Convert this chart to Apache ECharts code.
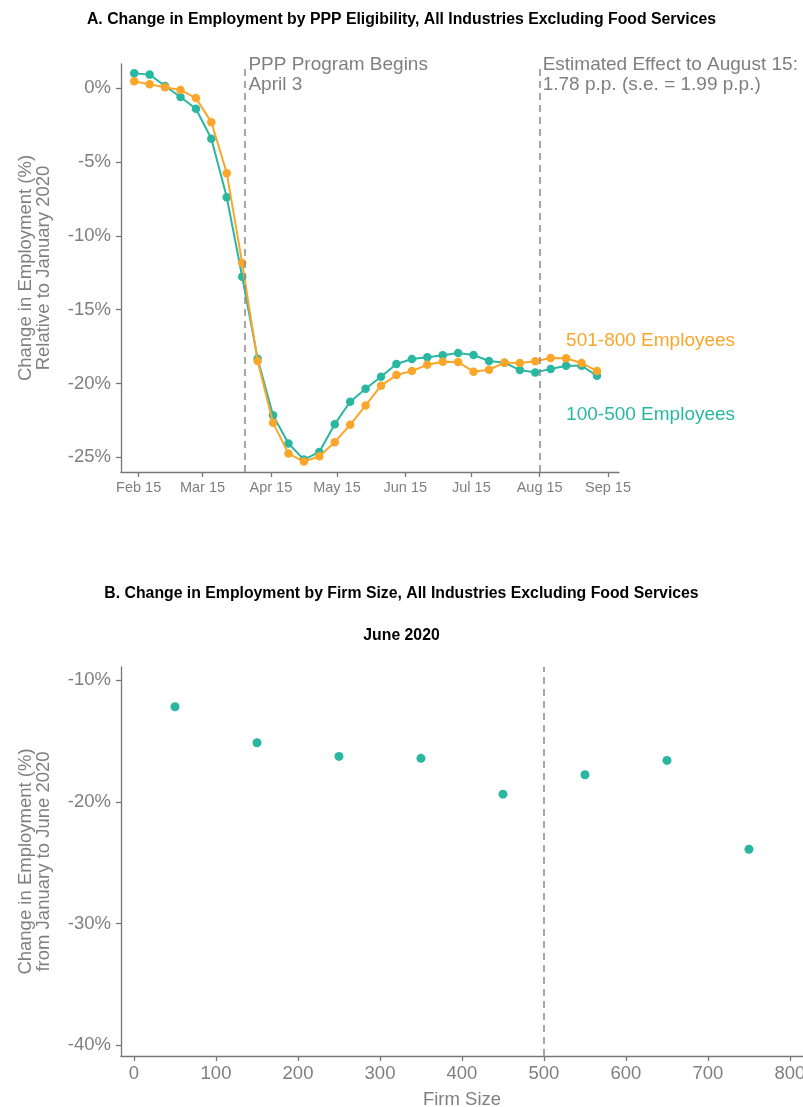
<!DOCTYPE html>
<html>
<head>
<meta charset="utf-8">
<script src="https://cdn.jsdelivr.net/npm/echarts@6/dist/echarts.min.js"></script>
<style>
  html, body { margin: 0; padding: 0; background: #ffffff; }
  #chart { width: 803px; height: 1107px; }
</style>
</head>
<body>
<div id="chart"></div>
<script>
// Panel A: weekly employment change relative to January 2020, by PPP eligibility
const weekDates = [
  '2020-02-13', '2020-02-20', '2020-02-27', '2020-03-05', '2020-03-12', '2020-03-19',
  '2020-03-26', '2020-04-02', '2020-04-09', '2020-04-16', '2020-04-23', '2020-04-30',
  '2020-05-07', '2020-05-14', '2020-05-21', '2020-05-28', '2020-06-04', '2020-06-11',
  '2020-06-18', '2020-06-25', '2020-07-02', '2020-07-09', '2020-07-16', '2020-07-23',
  '2020-07-30', '2020-08-06', '2020-08-13', '2020-08-20', '2020-08-27', '2020-09-03',
  '2020-09-10'
];
const employees100to500 = [
  1.02, 0.93, 0.16, -0.59, -1.38, -3.42, -7.38, -12.77, -18.32, -22.15, -24.07, -25.16,
  -24.64, -22.76, -21.24, -20.36, -19.54, -18.68, -18.34, -18.23, -18.09, -17.93, -18.07,
  -18.48, -18.59, -19.09, -19.25, -19.02, -18.80, -18.80, -19.48
];
const employees501to800 = [
  0.48, 0.27, 0.07, -0.11, -0.66, -2.29, -5.75, -11.84, -18.48, -22.67, -24.75, -25.29,
  -24.93, -23.98, -22.80, -21.49, -20.15, -19.43, -19.16, -18.73, -18.53, -18.55, -19.20,
  -19.07, -18.59, -18.61, -18.50, -18.27, -18.29, -18.61, -19.16
];
const monthTickDates = [
  '2020-02-15', '2020-03-15', '2020-04-15', '2020-05-15',
  '2020-06-15', '2020-07-15', '2020-08-15', '2020-09-15'
];
const pppStartDate = '2020-04-03';
const effectDate = '2020-08-15';
const pctTicksA = [-25, -20, -15, -10, -5, 0];

// Panel B: change from January to June 2020 by firm size
const firmSizes = [50, 150, 250, 350, 450, 550, 650, 750];
const juneChange = [-12.19, -15.15, -16.27, -16.43, -19.37, -17.78, -16.60, -23.89];
const firmSizeTicks = [0, 100, 200, 300, 400, 500, 600, 700, 800];
const pctTicksB = [-40, -30, -20, -10];
const eligibilityCutoff = 500;

const TEAL = '#2ab7a1';
const ORANGE = '#f9a62b';
const GREY = '#7f7f7f';
const AXIS = '#777777';
const FONT = '"Liberation Sans", Arial, Helvetica, sans-serif';
const MONTHS = ['Jan','Feb','Mar','Apr','May','Jun','Jul','Aug','Sep','Oct','Nov','Dec'];

const ts = s => Date.parse(s + 'T00:00:00Z');
const fmtDate = v => { const d = new Date(v); return MONTHS[d.getUTCMonth()] + ' ' + d.getUTCDate(); };

const seriesA1 = weekDates.map((d, i) => [ts(d), employees100to500[i]]);
const seriesA2 = weekDates.map((d, i) => [ts(d), employees501to800[i]]);
const seriesB = firmSizes.map((s, i) => [s, juneChange[i]]);

const dashed = { color: '#8a8a8a', type: [7, 5], width: 1.5 };
const titleStyle = { fontFamily: FONT, fontWeight: 'bold', fontSize: 15.8, color: '#000' };

function axisStyle(extra) {
  return Object.assign({
    axisLine: { show: true, onZero: false, lineStyle: { color: AXIS, width: 1.3 } },
    splitLine: { show: false }
  }, extra);
}
function ticks(values) {
  return { show: true, length: 5, lineStyle: { color: AXIS, width: 1.3 }, customValues: values };
}

const chart = echarts.init(document.getElementById('chart'), null, { renderer: 'canvas' });

chart.setOption({
  animation: false,
  backgroundColor: '#ffffff',
  textStyle: { fontFamily: FONT },
  title: [
    {
      text: 'A. Change in Employment by PPP Eligibility, All Industries Excluding Food Services',
      left: 'center', top: 7, textStyle: titleStyle
    },
    {
      text: 'B. Change in Employment by Firm Size, All Industries Excluding Food Services',
      left: 'center', top: 581, textStyle: titleStyle
    },
    {
      text: 'June 2020',
      left: 'center', top: 623, textStyle: titleStyle
    }
  ],
  grid: [
    { left: 121, top: 64, width: 498, height: 408, containLabel: false, outerBoundsMode: 'none' },
    { left: 121, top: 667, right: 0, height: 389, containLabel: false, outerBoundsMode: 'none' }
  ],
  xAxis: [
    axisStyle({
      type: 'value', gridIndex: 0,
      min: ts('2020-02-07'), max: ts('2020-09-20'),
      axisTick: ticks(monthTickDates.map(ts)),
      axisLabel: { color: GREY, fontFamily: FONT, fontSize: 14.5, margin: 8,
                   customValues: monthTickDates.map(ts), formatter: fmtDate }
    }),
    axisStyle({
      type: 'value', gridIndex: 1,
      min: -15.85, max: 815.9,
      name: 'Firm Size', nameLocation: 'middle', nameGap: 34,
      nameTextStyle: { color: GREY, fontFamily: FONT, fontSize: 18.5 },
      axisTick: ticks(firmSizeTicks),
      axisLabel: { color: GREY, fontFamily: FONT, fontSize: 18.5, margin: 8,
                   customValues: firmSizeTicks }
    })
  ],
  yAxis: [
    axisStyle({
      type: 'value', gridIndex: 0,
      min: -26.0, max: 1.65,
      name: 'Change in Employment (%)\nRelative to January 2020',
      nameLocation: 'middle', nameGap: 68, nameRotate: 90,
      nameTextStyle: { color: GREY, fontFamily: FONT, fontSize: 18.5, lineHeight: 18 },
      axisTick: ticks(pctTicksA),
      axisLabel: { color: GREY, fontFamily: FONT, fontSize: 18.5, margin: 10,
                   customValues: pctTicksA, formatter: v => v + '%' }
    }),
    axisStyle({
      type: 'value', gridIndex: 1,
      min: -40.87, max: -8.93,
      name: 'Change in Employment (%)\nfrom January to June 2020',
      nameLocation: 'middle', nameGap: 68, nameRotate: 90,
      nameTextStyle: { color: GREY, fontFamily: FONT, fontSize: 18.5, lineHeight: 18 },
      axisTick: ticks(pctTicksB),
      axisLabel: { color: GREY, fontFamily: FONT, fontSize: 18.5, margin: 10,
                   customValues: pctTicksB, formatter: v => v + '%' }
    })
  ],
  series: [
    {
      name: '100-500 Employees', type: 'line', xAxisIndex: 0, yAxisIndex: 0,
      data: seriesA1, symbol: 'circle', symbolSize: 8.5, showAllSymbol: true,
      lineStyle: { color: TEAL, width: 2 }, itemStyle: { color: TEAL },
      z: 3,
      markLine: {
        silent: true, symbol: ['none', 'none'], label: { show: false },
        lineStyle: dashed,
        data: [{ xAxis: ts(pppStartDate) }, { xAxis: ts(effectDate) }]
      },
      markPoint: {
        silent: true, symbol: 'circle', symbolSize: 0,
        data: [
          { coord: [ts(pppStartDate), 1.65],
            label: { show: true, formatter: 'PPP Program Begins\nApril 3', position: [4, -9],
                     align: 'left', verticalAlign: 'top', color: GREY, fontFamily: FONT,
                     fontSize: 19, lineHeight: 20 } },
          { coord: [ts(effectDate), 1.65],
            label: { show: true, formatter: 'Estimated Effect to August 15:\n1.78 p.p. (s.e. = 1.99 p.p.)',
                     position: [3, -9], align: 'left', verticalAlign: 'top', color: GREY,
                     fontFamily: FONT, fontSize: 19, lineHeight: 20 } },
          { coord: [ts('2020-08-27'), -22.12],
            label: { show: true, formatter: '100-500 Employees', position: [0, 0],
                     align: 'left', verticalAlign: 'middle', color: TEAL,
                     fontFamily: FONT, fontSize: 19 } }
        ]
      }
    },
    {
      name: '501-800 Employees', type: 'line', xAxisIndex: 0, yAxisIndex: 0,
      data: seriesA2, symbol: 'circle', symbolSize: 8.5, showAllSymbol: true,
      lineStyle: { color: ORANGE, width: 2 }, itemStyle: { color: ORANGE },
      z: 4,
      markPoint: {
        silent: true, symbol: 'circle', symbolSize: 0,
        data: [
          { coord: [ts('2020-08-27'), -17.1],
            label: { show: true, formatter: '501-800 Employees', position: [0, 0],
                     align: 'left', verticalAlign: 'middle', color: ORANGE,
                     fontFamily: FONT, fontSize: 19 } }
        ]
      }
    },
    {
      name: 'June 2020', type: 'scatter', xAxisIndex: 1, yAxisIndex: 1,
      data: seriesB, symbol: 'circle', symbolSize: 9,
      itemStyle: { color: TEAL, opacity: 1 },
      markLine: {
        silent: true, symbol: ['none', 'none'], label: { show: false },
        lineStyle: dashed,
        data: [{ xAxis: eligibilityCutoff }]
      }
    }
  ]
});
</script>
</body>
</html>
